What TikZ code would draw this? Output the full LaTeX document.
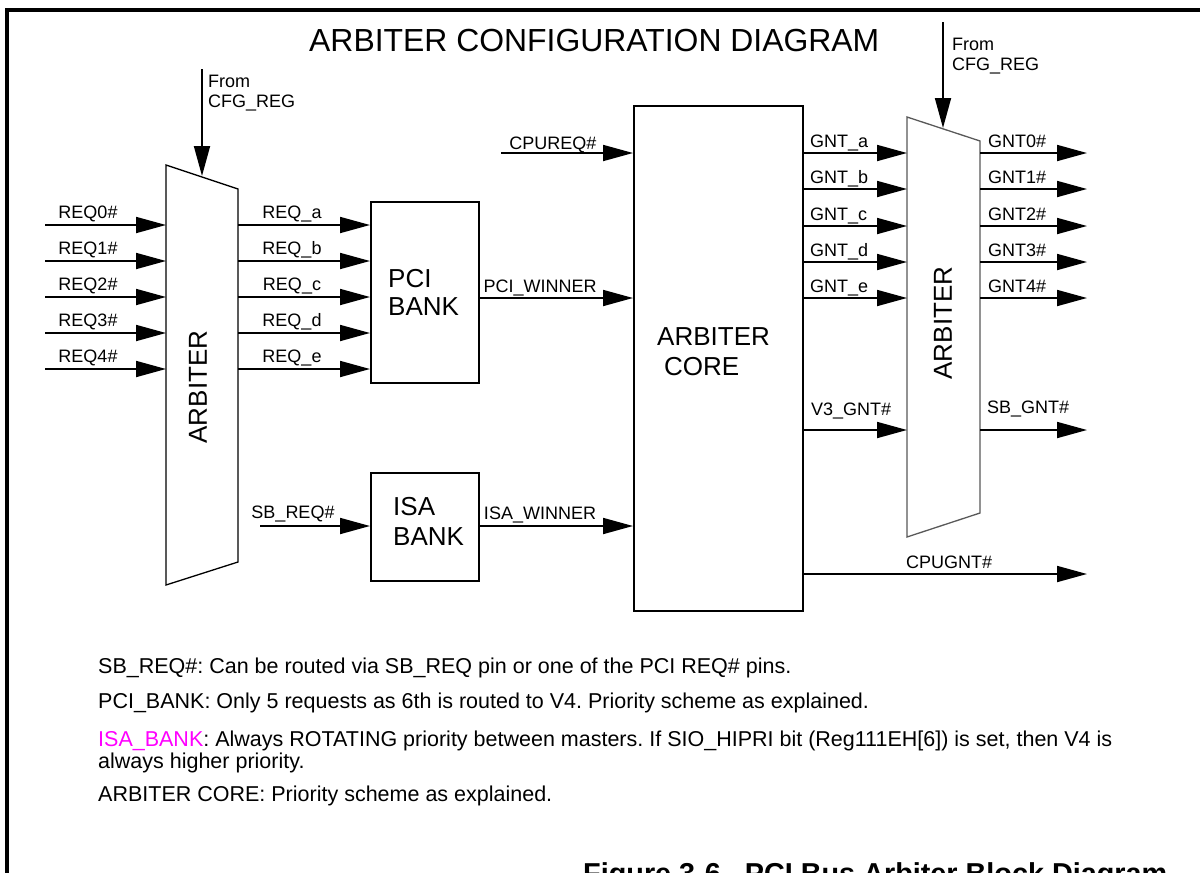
\documentclass[tikz,border=0pt]{standalone}
\usepackage{fontspec}
\setmainfont{Liberation Sans}
\usetikzlibrary{arrows.meta}
\definecolor{notemag}{RGB}{255,0,255}
\frenchspacing
\begin{document}
\begin{tikzpicture}[x=1pt,y=-1pt,
  wire/.style={line width=1.8pt,-{Triangle[length=30pt,width=16pt]}},
  lbl/.style={font=\fontsize{18}{21}\selectfont,inner sep=0pt,anchor=base},
  lblw/.style={lbl,anchor=base west},
  big/.style={font=\fontsize{26}{29}\selectfont,inner sep=0pt,anchor=base west},
  rot/.style={font=\fontsize{26}{29}\selectfont,inner sep=0pt,anchor=center,rotate=90},
  blk/.style={draw,line width=2pt,inner sep=0pt,anchor=north west},
  trap/.style={line width=1.3pt},
  note/.style={font=\fontsize{21.5}{23}\selectfont\frenchspacing,inner sep=0pt,anchor=base west}]
\useasboundingbox (0,0) rectangle (1200,873);
\fill[white] (0,0) rectangle (1200,873);
% frame
\draw[line width=3.3pt] (7,890) -- (7,10) -- (1215,10);
% title
\node[font=\fontsize{31.9}{34}\selectfont,inner sep=0pt,anchor=base west] (title) at (309,51) {ARBITER CONFIGURATION DIAGRAM};

% blocks
\node[blk,minimum width=108pt,minimum height=181pt] (pci) at (370,201) {};
\node[blk,minimum width=108pt,minimum height=108pt] (isa) at (370,472) {};
\node[blk,minimum width=169pt,minimum height=505pt] (core) at (633,105) {};
\node[big] (pcit1) at (388,287) {PCI};
\node[big] (pcit2) at (388,315) {BANK};
\node[big] (isat1) at (393,515) {ISA};
\node[big] (isat2) at (393,545) {BANK};
\node[big] (coret1) at (657,345) {ARBITER};
\node[big] (coret2) at (664,375) {CORE};

% left arbiter
\coordinate (la1) at (166,165);
\coordinate (la2) at (238,189);
\coordinate (la3) at (238,562);
\coordinate (la4) at (166,585);
\draw[trap] (la1) -- (la2) -- (la3) -- (la4) -- cycle;
\node[rot] (larb) at (198,387) {ARBITER};
\coordinate (lcfg) at (202,69);
\coordinate (lcfgtip) at (202,176);
\draw[wire] (lcfg) -- (lcfgtip);
\node[lblw] (lfrom) at (208,87) {From};
\node[lblw] (lcfgt) at (208,107) {CFG\_REG};

% right arbiter
\coordinate (ra1) at (907,117);
\coordinate (ra2) at (980,141);
\coordinate (ra3) at (980,513);
\coordinate (ra4) at (907,537);
\draw[trap,draw=black!65] (ra1) -- (ra2) -- (ra3) -- (ra4) -- cycle;
\node[rot] (rarb) at (943,323) {ARBITER};
\coordinate (rcfg) at (943,22);
\coordinate (rcfgtip) at (943,128);
\draw[wire] (rcfg) -- (rcfgtip);
\node[lblw] (rfrom) at (952,50) {From};
\node[lblw] (rcfgt) at (952,70) {CFG\_REG};

% REQ inputs and outputs
\foreach \i/\l/\y in {0/a/225,1/b/261,2/c/297,3/d/333,4/e/369}{
  \coordinate (rin\i) at (45,\y);
  \coordinate (rarb\i) at (166,\y);
  \draw[wire] (rin\i) -- (rarb\i);
  \node[lbl] at (88,{\y-7}) {REQ\i\#};
  \coordinate (rout\l) at (238,\y);
  \draw[wire] (rout\l) -- (rout\l -| pci.west);
  \node[lbl] at (292,{\y-7}) {REQ\_\l};
}

% into core
\coordinate (cpureq) at (501,153);
\draw[wire] (cpureq) -- (cpureq -| core.west);
\node[lbl] at (553,149) {CPUREQ\#};
\coordinate (pciw) at (478,298);
\draw[wire] (pciw) -- (pciw -| core.west);
\node[lbl] at (540,292) {PCI\_WINNER};
\coordinate (isaw) at (478,526);
\draw[wire] (isaw) -- (isaw -| core.west);
\node[lbl] at (540,519) {ISA\_WINNER};
\coordinate (sbreq) at (260,526);
\draw[wire] (sbreq) -- (sbreq -| isa.west);
\node[lbl] at (293,518) {SB\_REQ\#};

% grants
\foreach \l/\n/\y in {a/0/153,b/1/189,c/2/226,d/3/262,e/4/298}{
  \coordinate (g\l) at (802,\y);
  \coordinate (rt\l) at (907,\y);
  \draw[wire] (g\l) -- (rt\l);
  \node[lblw] at (810,{\y-6}) {GNT\_\l};
  \coordinate (go\l) at (980,\y);
  \coordinate (gend\l) at (1087,\y);
  \draw[wire] (go\l) -- (gend\l);
  \node[lblw] at (988,{\y-6}) {GNT\n\#};
}
\coordinate (v3a) at (802,430);
\coordinate (v3b) at (907,430);
\draw[wire] (v3a) -- (v3b);
\node[lblw] at (811,415) {V3\_GNT\#};
\coordinate (sba) at (980,430);
\coordinate (sbb) at (1087,430);
\draw[wire] (sba) -- (sbb);
\node[lblw] at (987,413) {SB\_GNT\#};
\coordinate (cpa) at (802,574);
\coordinate (cpb) at (1087,574);
\draw[wire] (cpa) -- (cpb);
\node[lblw] at (906,568) {CPUGNT\#};

% notes
\node[note] (n1) at (98,673) {SB\_REQ\#: Can be routed via SB\_REQ pin or one of the PCI REQ\# pins.};
\node[note] (n2) at (98,708) {PCI\_BANK: Only 5 requests as 6th is routed to V4. Priority scheme as explained.};
\node[note] (n3) at (98,746) {\textcolor{notemag}{ISA\_BANK}: Always ROTATING priority between masters. If SIO\_HIPRI bit (Reg111EH[6]) is set, then V4 is};
\node[note] (n4) at (98,768) {always higher priority.};
\node[note] (n5) at (98,801) {ARBITER CORE: Priority scheme as explained.};
\node[font=\fontsize{28.8}{31}\selectfont\bfseries,inner sep=0pt,anchor=base west] (cap) at (583,883) {Figure 3-6.\ \ PCI Bus Arbiter Block Diagram};
\end{tikzpicture}
\end{document}
